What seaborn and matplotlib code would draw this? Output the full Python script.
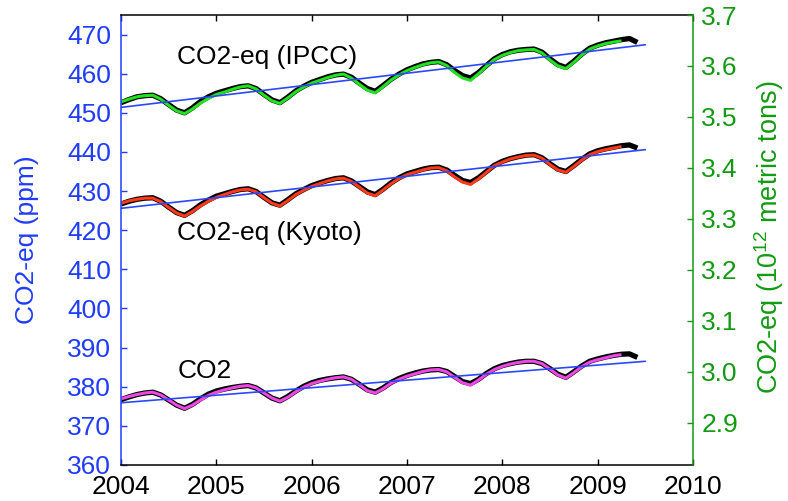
import numpy as np
import pandas as pd
import matplotlib
matplotlib.use("Agg")
import matplotlib.pyplot as plt
import seaborn as sns

# ---------------- data (monthly, starting Jan 2004) ----------------
co2_color = [376.9, 377.5, 378.0, 378.4, 378.6, 377.9, 376.6, 375.3, 374.4, 375.3, 376.6, 377.8,
             378.6, 379.2, 379.7, 380.1, 380.3, 379.7, 378.4, 377.1, 376.3, 377.3, 378.7, 379.9,
             380.8, 381.4, 381.9, 382.3, 382.5, 381.9, 380.5, 379.0, 378.4, 379.5, 380.9, 381.9,
             382.7, 383.3, 383.9, 384.3, 384.4, 383.8, 382.4, 381.0, 380.4, 381.7, 383.2, 384.4,
             385.2, 385.8, 386.2, 386.5, 386.5, 385.9, 384.5, 383.0, 382.2, 383.6, 385.1, 386.3,
             386.9, 387.4, 387.9, 388.2]
co2_black = [376.7, 377.4, 378.0, 378.4, 378.6, 377.9, 376.6, 375.3, 374.5, 375.5, 376.9, 378.1,
             378.9, 379.4, 379.8, 380.1, 380.3, 379.7, 378.4, 377.1, 376.4, 377.5, 378.9, 380.1,
             381.0, 381.6, 382.0, 382.3, 382.5, 381.9, 380.6, 379.2, 378.6, 379.7, 381.1, 382.1,
             382.9, 383.5, 384.0, 384.3, 384.4, 383.9, 382.6, 381.3, 380.8, 381.9, 383.4, 384.6,
             385.4, 385.9, 386.3, 386.5, 386.5, 385.9, 384.6, 383.2, 382.4, 383.8, 385.3, 386.5,
             387.1, 387.6, 388.0, 388.3, 388.4, 387.5]
kyoto_color = [426.9, 427.5, 427.9, 428.2, 428.2, 427.3, 425.8, 424.4, 423.6, 424.8, 426.2, 427.4,
               428.4, 429.1, 429.8, 430.3, 430.5, 429.8, 428.3, 426.9, 426.2, 427.6, 429.1, 430.2,
               431.2, 431.9, 432.6, 433.1, 433.3, 432.5, 431.0, 429.5, 428.8, 430.3, 431.9, 433.2,
               434.2, 434.8, 435.4, 435.9, 436.0, 435.2, 433.6, 432.3, 431.7, 433.1, 434.8, 436.5,
               437.4, 438.2, 438.7, 439.1, 439.2, 438.4, 436.8, 435.4, 434.8, 436.3, 437.9, 439.3,
               440.1, 440.6, 441.0, 441.4]
kyoto_black = [426.7, 427.4, 427.9, 428.2, 428.3, 427.4, 425.9, 424.5, 423.8, 425.0, 426.5, 427.7,
               428.7, 429.3, 429.9, 430.4, 430.6, 429.9, 428.4, 427.0, 426.4, 427.8, 429.3, 430.4,
               431.4, 432.1, 432.7, 433.2, 433.4, 432.6, 431.2, 429.8, 429.1, 430.5, 432.1, 433.4,
               434.4, 435.0, 435.6, 436.0, 436.1, 435.4, 434.0, 432.7, 432.2, 433.4, 435.0, 436.6,
               437.6, 438.3, 438.8, 439.2, 439.3, 438.5, 437.0, 435.6, 435.0, 436.5, 438.1, 439.5,
               440.3, 440.8, 441.2, 441.6, 441.8, 441.0]
ipcc_color = [452.8, 453.5, 454.1, 454.4, 454.5, 453.5, 451.9, 450.5, 449.8, 451.0, 452.5, 453.7,
              454.7, 455.3, 456.0, 456.6, 456.9, 456.1, 454.5, 453.1, 452.4, 453.8, 455.4, 456.6,
              457.6, 458.3, 459.0, 459.6, 459.9, 458.9, 457.3, 455.8, 455.1, 456.7, 458.4, 459.7,
              460.8, 461.6, 462.3, 462.8, 463.0, 462.1, 460.3, 458.9, 458.3, 460.0, 461.9, 463.6,
              464.7, 465.4, 465.9, 466.1, 466.2, 465.3, 463.5, 462.0, 461.3, 462.9, 464.8, 466.3,
              467.1, 467.7, 468.1, 468.4]
ipcc_black = [452.6, 453.4, 454.1, 454.4, 454.5, 453.6, 452.1, 450.7, 450.0, 451.3, 452.9, 454.1,
              455.0, 455.6, 456.2, 456.7, 456.9, 456.2, 454.7, 453.3, 452.6, 454.0, 455.6, 456.8,
              457.8, 458.5, 459.2, 459.7, 459.9, 459.1, 457.6, 456.2, 455.5, 457.0, 458.6, 459.9,
              461.0, 461.8, 462.5, 462.9, 463.1, 462.3, 460.8, 459.5, 458.9, 460.3, 462.1, 463.8,
              464.9, 465.6, 466.0, 466.2, 466.3, 465.5, 463.8, 462.3, 461.6, 463.2, 465.0, 466.5,
              467.3, 467.9, 468.3, 468.7, 469.0, 468.0]

trend_years = [2004.0, 2009.5]
co2_trend = [375.9, 386.5]
kyoto_trend = [425.6, 440.6]
ipcc_trend = [451.4, 467.4]

series_labels = ["CO2-eq (IPCC)", "CO2-eq (Kyoto)", "CO2"]
label_pos = [(2004.59, 464.2), (2004.59, 419.3), (2004.59, 383.9)]

x_ticks = [2004, 2005, 2006, 2007, 2008, 2009, 2010]
left_ticks = list(range(360, 471, 10))
right_ticks = [2.9, 3.0, 3.1, 3.2, 3.3, 3.4, 3.5, 3.6, 3.7]

# ---------------- style ----------------
BLUE = "#1f3cff"
TREND = "#2a48ff"
DKGREEN = "#139a13"
LINE_GREEN = "#22e022"
RED = "#ff3a1a"
MAGENTA = "#ee48e4"

sns.set_style("ticks")
plt.rcParams['font.family'] = ['Liberation Sans', 'DejaVu Sans']
plt.rcParams['mathtext.default'] = 'regular'
plt.rcParams['text.color'] = 'black'
plt.rcParams['xtick.color'] = 'black'
plt.rcParams['ytick.color'] = 'black'
FS = 19

fig = plt.figure(figsize=(7.88, 5.01), dpi=100)
ax = fig.add_axes([0.1536, 0.0719, 0.7258, 0.8981])


def months(n):
    return 2004 + np.arange(n) / 12.0


for black, col, c in [(ipcc_black, ipcc_color, LINE_GREEN),
                      (kyoto_black, kyoto_color, RED),
                      (co2_black, co2_color, MAGENTA)]:
    dfb = pd.DataFrame({"year": months(len(black)), "val": black})
    sns.lineplot(data=dfb, x="year", y="val", ax=ax, color="black", linewidth=3.8,
                 estimator=None, sort=False, solid_joinstyle="round", solid_capstyle="butt")
    dfc = pd.DataFrame({"year": months(len(col)), "val": col})
    sns.lineplot(data=dfc, x="year", y="val", ax=ax, color=c, linewidth=2.2,
                 estimator=None, sort=False, solid_joinstyle="round", solid_capstyle="butt")

for tr in [ipcc_trend, kyoto_trend, co2_trend]:
    sns.lineplot(x=trend_years, y=tr, ax=ax, color=TREND, linewidth=1.2, estimator=None)

for lab, (xx, yy) in zip(series_labels, label_pos):
    ax.text(xx, yy, lab, fontsize=FS, color="black", ha="left", va="center")

ax.set_xlim(2004, 2010)
ax.set_ylim(360, 475)
ax.set_xticks(x_ticks)
ax.set_xticklabels([str(t) for t in x_ticks], fontsize=FS, color="black")
ax.set_yticks(left_ticks)
ax.set_yticklabels([str(t) for t in left_ticks], fontsize=FS, color=BLUE)
ax.tick_params(axis="x", direction="in", top=True, length=4, width=1, color="black",
               labelcolor="black", pad=7)
ax.tick_params(axis="y", direction="in", left=True, right=True, length=4, width=1,
               color=BLUE, labelcolor=BLUE, pad=7)
ax.set_xlabel("")
ax.set_ylabel("CO2-eq (ppm)", fontsize=FS, color=BLUE)
ax.yaxis.set_label_coords(-0.144, 0.5)

ax2 = ax.twinx()
ax2.set_ylim(2.817, 3.692)
ax2.set_yticks(right_ticks)
ax2.set_yticklabels([f"{t:.1f}" for t in right_ticks], fontsize=FS, color=DKGREEN)
ax2.tick_params(axis="y", direction="in", right=True, left=False, length=4, width=1,
                color=DKGREEN, labelcolor=DKGREEN, pad=6)
ax2.set_ylabel("CO2-eq (10$^{12}$ metric tons)", fontsize=19.5, color=DKGREEN)
ax2.yaxis.set_label_coords(1.104, 0.507)

for a in (ax, ax2):
    for s in a.spines.values():
        s.set_linewidth(1.1)
ax.spines["left"].set_color(BLUE)
ax.spines["right"].set_visible(False)
ax.spines["top"].set_color("black")
ax.spines["bottom"].set_color("black")
ax2.spines["right"].set_color(DKGREEN)
ax2.spines["left"].set_visible(False)
ax2.spines["top"].set_visible(False)
ax2.spines["bottom"].set_visible(False)

fig.savefig("out.png", dpi=100)
